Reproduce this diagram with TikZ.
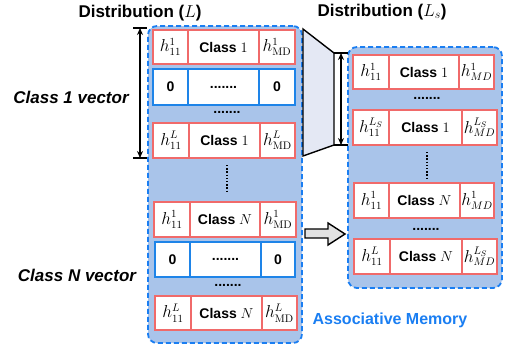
\documentclass[tikz,border=0pt]{standalone}
\usepackage[no-math]{fontspec}
\setmainfont{Liberation Sans}
\usetikzlibrary{arrows.meta}
\definecolor{cred}{HTML}{F06A6A}
\definecolor{cblue}{HTML}{1E84E8}
\definecolor{cfill}{HTML}{A9C4EA}
\definecolor{cdash}{HTML}{1A7EF2}
\definecolor{ctrap}{HTML}{E4E8F4}
\definecolor{carrow}{HTML}{E2E2E2}
\tikzset{
  cellbase/.style={rectangle, fill=white, line width=1.8pt, inner sep=0pt, outer sep=0pt,
    font=\fontsize{14}{16}\selectfont\bfseries},
  redcell/.style={cellbase, draw=cred},
  hcell/.style={cellbase, draw=cred, font=\fontsize{16}{18}\selectfont},
  bluecell/.style={cellbase, draw=cblue},
  container/.style={rectangle, rounded corners=9pt, fill=cfill, draw=cdash, line width=1.8pt,
    dash pattern=on 5pt off 3pt, inner sep=0pt},
  dotrow/.style={font=\fontsize{14}{16}\selectfont\bfseries, inner sep=0pt},
  vdotline/.style={line width=1.6pt, dash pattern=on 1.3pt off 1.9pt},
  title/.style={font=\fontsize{17}{19}\selectfont\bfseries},
  sidelabel/.style={font=\fontsize{17}{19}\selectfont\bfseries\itshape},
  dblarrow/.style={line width=1.4pt, {Stealth[length=7pt,width=6pt]}-{Stealth[length=7pt,width=6pt]}},
  capline/.style={line width=1.4pt},
}
\newcommand\mycell[7]{%
  \node[#6, minimum width={#3pt-#2pt}, minimum height={#5pt-#4pt}] (#1) at ({(#2+#3)/2},{(#4+#5)/2}) {#7};}
\begin{document}
\begin{tikzpicture}[x=1pt,y=-1pt]
\useasboundingbox (0,0) rectangle (506,349);
% titles
\node[title] (tL) at (140,13) {Distribution ($L$)};
\node[title] (tR) at (382,12) {Distribution ($L_s$)};
% containers
\node[container, minimum width=154pt, minimum height=317pt] (memL) at (225,184.5) {};
\node[container, minimum width=154pt, minimum height=241pt] (memR) at (425,167.5) {};
% left rows
\mycell{a1}{153}{188}{30}{64}{hcell}{$h_{11}^{1}$}
\mycell{a2}{188}{259}{30}{64}{redcell}{Class $1$}
\mycell{a3}{259}{295}{30}{64}{hcell}{$h_{\mathrm{MD}}^{1}$}
\mycell{b1}{153}{188}{69}{105}{bluecell}{0}
\mycell{b2}{188}{259}{69}{105}{bluecell}{.......}
\mycell{b3}{259}{295}{69}{105}{bluecell}{0}
\node[dotrow] (d1) at (227,112) {.......};
\mycell{c1}{153}{189}{123}{158}{hcell}{$h_{11}^{L}$}
\mycell{c2}{189}{260}{123}{158}{redcell}{Class $1$}
\mycell{c3}{260}{295}{123}{158}{hcell}{$h_{\mathrm{MD}}^{L}$}
\coordinate (v1a) at (227,165);
\coordinate (v1b) at (227,192);
\draw[vdotline] (v1a) -- (v1b);
\mycell{e1}{154}{190}{202}{237}{hcell}{$h_{11}^{1}$}
\mycell{e2}{190}{260}{202}{237}{redcell}{Class $N$}
\mycell{e3}{260}{296}{202}{237}{hcell}{$h_{\mathrm{MD}}^{1}$}
\mycell{f1}{155}{190}{242}{277}{bluecell}{0}
\mycell{f2}{190}{261}{242}{277}{bluecell}{.......}
\mycell{f3}{261}{295}{242}{277}{bluecell}{0}
\node[dotrow] (d2) at (228,285) {.......};
\mycell{g1}{155}{191}{296}{330}{hcell}{$h_{11}^{L}$}
\mycell{g2}{191}{262}{296}{330}{redcell}{Class $N$}
\mycell{g3}{262}{297}{296}{330}{hcell}{$h_{\mathrm{MD}}^{L}$}
% right rows
\mycell{p1}{353}{389}{55}{89}{hcell}{$h_{11}^{1}$}
\mycell{p2}{389}{459}{55}{89}{redcell}{Class $1$}
\mycell{p3}{459}{494}{55}{89}{hcell}{$h_{MD}^{1}$}
\node[dotrow] (d3) at (427,98) {.......};
\mycell{q1}{353}{389}{110}{145}{hcell}{$h_{11}^{L_S}$}
\mycell{q2}{389}{462}{110}{145}{redcell}{Class $1$}
\mycell{q3}{462}{497}{110}{145}{hcell}{$h_{MD}^{L_S}$}
\coordinate (v2a) at (427,152);
\coordinate (v2b) at (427,178);
\draw[vdotline] (v2a) -- (v2b);
\mycell{r1}{354}{389}{183}{218}{hcell}{$h_{11}^{1}$}
\mycell{r2}{389}{460}{183}{218}{redcell}{Class $N$}
\mycell{r3}{460}{494}{183}{218}{hcell}{$h_{MD}^{1}$}
\node[dotrow] (d4) at (426,229) {.......};
\mycell{s1}{354}{390}{239}{274}{hcell}{$h_{11}^{L}$}
\mycell{s2}{390}{462}{239}{274}{redcell}{Class $N$}
\mycell{s3}{462}{497}{239}{274}{hcell}{$h_{MD}^{L_S}$}
% side labels
\node[sidelabel] (lab1) at (71,97) {Class 1 vector};
\node[sidelabel] (labN) at (77,275) {Class N vector};
\node[font=\fontsize{16}{18}\selectfont\bfseries, text=cdash] (am) at (390,320) {Associative Memory};
% left double arrow
\coordinate (lt1) at (133,28); \coordinate (lt2) at (147,28);
\coordinate (lb1) at (133,158); \coordinate (lb2) at (147,158);
\coordinate (la1) at (140,28); \coordinate (la2) at (140,158);
\draw[capline] (lt1) -- (lt2);
\draw[capline] (lb1) -- (lb2);
\draw[dblarrow] (la1) -- (la2);
% trapezoid
\coordinate (tz1) at (303,29); \coordinate (tz2) at (334,53);
\coordinate (tz3) at (334,145); \coordinate (tz4) at (303,156);
\coordinate (rc1) at (348,53); \coordinate (rc2) at (348,145);
\coordinate (ra1) at (341,53); \coordinate (ra2) at (341,145);
\draw[line width=1.4pt, fill=ctrap, line join=miter] (tz1) -- (tz2) -- (tz3) -- (tz4) -- cycle;
\draw[capline] (tz2) -- (rc1);
\draw[capline] (tz3) -- (rc2);
\draw[dblarrow] (ra1) -- (ra2);
% hollow arrow
\coordinate (ha1) at (305,229); \coordinate (ha2) at (328,229); \coordinate (ha3) at (328,223);
\coordinate (ha4) at (345,234); \coordinate (ha5) at (328,245); \coordinate (ha6) at (328,238);
\coordinate (ha7) at (305,238);
\draw[line width=1.4pt, fill=carrow, line join=miter] (ha1) -- (ha2) -- (ha3) -- (ha4) -- (ha5) -- (ha6) -- (ha7) -- cycle;
\end{tikzpicture}
\end{document}
